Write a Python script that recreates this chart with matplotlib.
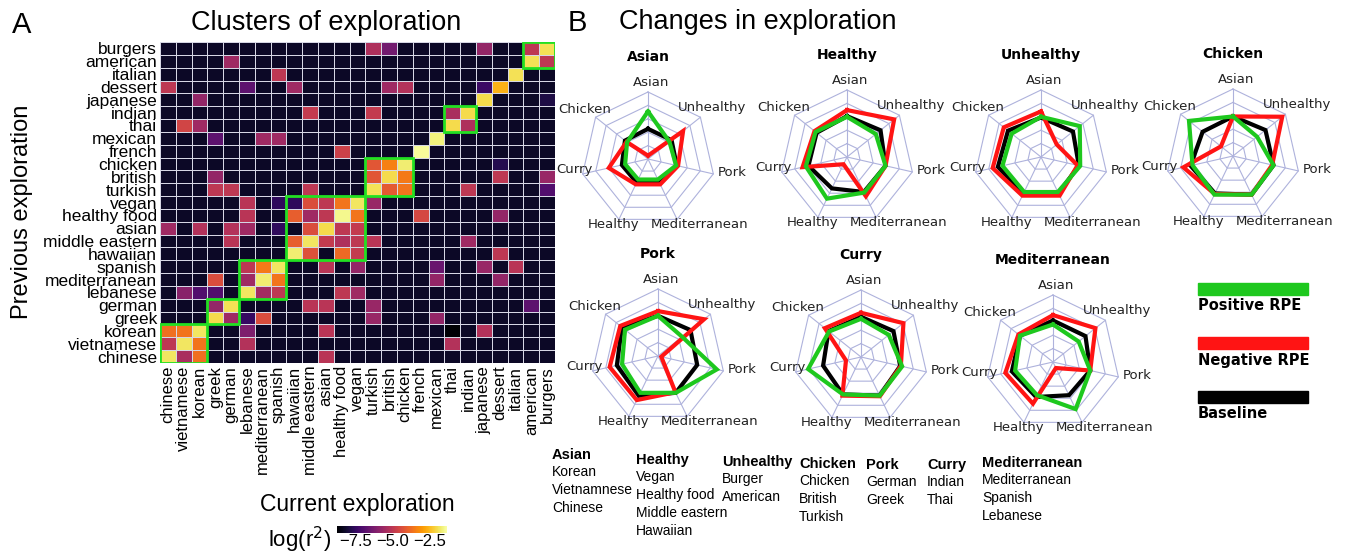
import numpy as np
import matplotlib
matplotlib.use("Agg")
import matplotlib.pyplot as plt
from matplotlib.patches import Rectangle

plt.rcParams['font.family'] = ['Liberation Sans', 'DejaVu Sans']

W, H = 1350, 554

# ---------------- data: panel A ----------------
foods = ["chinese", "vietnamese", "korean", "greek", "german", "lebanese",
         "mediterranean", "spanish", "hawaiian", "middle eastern", "asian",
         "healthy food", "vegan", "turkish", "british", "chicken", "french",
         "mexican", "thai", "indian", "japanese", "dessert", "italian",
         "american", "burgers"]

background_r2 = -8.3
# previous exploration -> {current exploration: log(r^2)}
log_r2 = {
    "burgers": {"turkish": -5.3, "british": -6.4, "japanese": -5.8, "american": -5.0, "burgers": -1.9},
    "american": {"german": -5.6, "american": -1.9, "burgers": -5.0},
    "italian": {"spanish": -5.0, "italian": -1.9},
    "dessert": {"chinese": -5.0, "lebanese": -6.8, "hawaiian": -5.6, "british": -5.6,
                "chicken": -5.2, "japanese": -7.4, "dessert": -2.6},
    "japanese": {"korean": -5.8, "japanese": -2.0, "burgers": -7.9},
    "indian": {"middle eastern": -4.9, "turkish": -4.9, "thai": -5.4, "indian": -2.0},
    "thai": {"vietnamese": -4.6, "korean": -5.6, "thai": -2.0, "indian": -5.3},
    "mexican": {"greek": -6.8, "mediterranean": -5.6, "spanish": -5.6, "mexican": -1.6},
    "french": {"healthy food": -4.7, "french": -1.4},
    "chicken": {"turkish": -4.2, "british": -3.4, "chicken": -1.7, "dessert": -7.8},
    "british": {"greek": -5.8, "turkish": -4.2, "british": -2.0, "chicken": -3.5,
                "dessert": -5.0, "burgers": -5.7},
    "turkish": {"greek": -5.0, "german": -5.0, "middle eastern": -5.0, "turkish": -1.9,
                "british": -4.1, "chicken": -3.6, "indian": -5.0, "burgers": -7.0},
    "vegan": {"lebanese": -5.1, "spanish": -7.6, "hawaiian": -7.6, "middle eastern": -4.4,
              "asian": -5.0, "healthy food": -3.6, "vegan": -1.8, "turkish": -5.7},
    "healthy food": {"lebanese": -5.1, "hawaiian": -4.0, "middle eastern": -5.6, "asian": -5.0,
                     "healthy food": -1.5, "vegan": -3.6, "french": -4.5, "dessert": -5.8},
    "asian": {"chinese": -5.6, "korean": -5.2, "german": -5.2, "lebanese": -5.6, "spanish": -7.6,
              "middle eastern": -4.4, "asian": -2.0, "healthy food": -5.0, "vegan": -4.9},
    "middle eastern": {"german": -5.1, "hawaiian": -4.0, "middle eastern": -1.8, "asian": -4.9,
                       "healthy food": -5.3, "vegan": -5.0, "turkish": -5.1, "indian": -5.6},
    "hawaiian": {"hawaiian": -1.7, "middle eastern": -4.3, "healthy food": -3.8, "vegan": -4.9,
                 "dessert": -5.0},
    "spanish": {"lebanese": -5.0, "mediterranean": -3.5, "spanish": -1.8, "asian": -5.1,
                "vegan": -5.8, "mexican": -6.6, "japanese": -5.7, "italian": -5.1},
    "mediterranean": {"greek": -4.4, "lebanese": -5.6, "mediterranean": -1.7, "spanish": -3.6,
                      "mexican": -5.8, "dessert": -5.8},
    "lebanese": {"vietnamese": -6.0, "korean": -7.0, "greek": -7.0, "lebanese": -1.8,
                 "mediterranean": -5.5, "spanish": -5.0, "healthy food": -5.0, "vegan": -5.6},
    "german": {"greek": -5.8, "german": -1.9, "middle eastern": -5.1, "asian": -5.1,
               "turkish": -5.7, "american": -6.8},
    "greek": {"greek": -2.0, "german": -5.6, "lebanese": -7.5, "mediterranean": -4.4,
              "turkish": -5.7, "mexican": -5.8},
    "korean": {"chinese": -3.7, "vietnamese": -3.6, "korean": -1.8, "lebanese": -6.2,
               "asian": -5.1, "thai": -9.5, "japanese": -5.2},
    "vietnamese": {"chinese": -5.0, "vietnamese": -1.8, "korean": -3.6, "lebanese": -5.2,
                   "thai": -5.2},
    "chinese": {"chinese": -1.8, "vietnamese": -5.4, "korean": -3.7, "asian": -5.1},
}

clusters = [("chinese", "korean"), ("greek", "german"), ("lebanese", "spanish"),
            ("hawaiian", "vegan"), ("turkish", "chicken"), ("thai", "indian"),
            ("american", "burgers")]

# ---------------- data: panel B ----------------
spokes = ["Asian", "Unhealthy", "Pork", "Mediterranean", "Healthy", "Curry", "Chicken"]
panels = ["Asian", "Healthy", "Unhealthy", "Chicken", "Pork", "Curry", "Mediterranean"]

positive_rpe = {
    "Asian":         [0.71, 0.41, 0.43, 0.34, 0.34, 0.35, 0.40],
    "Healthy":       [0.60, 0.55, 0.59, 0.59, 0.69, 0.63, 0.60],
    "Unhealthy":     [0.60, 0.74, 0.60, 0.58, 0.58, 0.59, 0.56],
    "Chicken":       [0.59, 0.46, 0.62, 0.64, 0.64, 0.62, 0.84],
    "Pork":          [0.60, 0.46, 0.90, 0.61, 0.61, 0.55, 0.63],
    "Curry":         [0.57, 0.53, 0.63, 0.64, 0.62, 0.81, 0.61],
    "Mediterranean": [0.56, 0.49, 0.57, 0.78, 0.55, 0.58, 0.63],
}
negative_rpe = {
    "Asian":         [0.05, 0.67, 0.46, 0.42, 0.42, 0.60, 0.41],
    "Healthy":       [0.70, 0.90, 0.59, 0.65, 0.12, 0.68, 0.62],
    "Unhealthy":     [0.68, 0.30, 0.56, 0.64, 0.64, 0.74, 0.71],
    "Chicken":       [0.59, 0.94, 0.60, 0.64, 0.63, 0.76, 0.23],
    "Pork":          [0.67, 0.88, 0.05, 0.60, 0.73, 0.74, 0.72],
    "Curry":         [0.66, 0.81, 0.61, 0.65, 0.64, 0.23, 0.69],
    "Mediterranean": [0.70, 0.81, 0.57, 0.10, 0.69, 0.73, 0.66],
}
baseline = {
    "Asian":         [0.45, 0.45, 0.44, 0.39, 0.39, 0.40, 0.44],
    "Healthy":       [0.61, 0.64, 0.59, 0.58, 0.52, 0.59, 0.58],
    "Unhealthy":     [0.59, 0.61, 0.58, 0.60, 0.61, 0.66, 0.63],
    "Chicken":       [0.59, 0.62, 0.62, 0.64, 0.62, 0.65, 0.58],
    "Pork":          [0.60, 0.62, 0.60, 0.61, 0.66, 0.63, 0.69],
    "Curry":         [0.60, 0.62, 0.60, 0.64, 0.62, 0.58, 0.62],
    "Mediterranean": [0.62, 0.62, 0.57, 0.55, 0.58, 0.63, 0.63],
}

groups = {
    "Asian": ["Korean", "Vietnamnese", "Chinese"],
    "Healthy": ["Vegan", "Healthy food", "Middle eastern", "Hawaiian"],
    "Unhealthy": ["Burger", "American"],
    "Chicken": ["Chicken", "British", "Turkish"],
    "Pork": ["German", "Greek"],
    "Curry": ["Indian", "Thai"],
    "Mediterranean": ["Mediterranean", "Spanish", "Lebanese"],
}

GREEN, RED, BLACK = "#1ec81e", "#ff1414", "#000000"
GRID = "#aeb2dc"


def fig_rect(x, y, w, h):
    # pixel box (top-left origin) -> figure fraction
    return [x / W, 1 - (y + h) / H, w / W, h / H]


def fig_xy(x, y):
    return x / W, 1 - y / H


fig = plt.figure(figsize=(W / 100, H / 100), dpi=100)

# ---------------- panel A: heatmap ----------------
n = len(foods)
mat = np.full((n, n), background_r2)
for prev, row in log_r2.items():
    for cur, v in row.items():
        mat[foods.index(prev), foods.index(cur)] = v

ax = fig.add_axes(fig_rect(160, 42, 395, 321))
cmap = plt.get_cmap("inferno").copy()
mesh = ax.pcolormesh(np.arange(n + 1), np.arange(n + 1), mat, cmap=cmap,
                     vmin=-8.8, vmax=-1.3, edgecolors="#d6d6e4", linewidth=0.6)
for a, b in clusters:
    i0, i1 = foods.index(a), foods.index(b)
    ax.add_patch(Rectangle((i0, i0), i1 - i0 + 1, i1 - i0 + 1, fill=False,
                           edgecolor="#22e022", linewidth=2.0, zorder=3))
ax.set_xlim(0, n)
ax.set_ylim(0, n)
ax.set_xticks(np.arange(n) + 0.5)
ax.set_xticklabels(foods, rotation=90, fontsize=12)
ax.set_yticks(np.arange(n) + 0.5)
ax.set_yticklabels(foods, fontsize=12.5)
ax.tick_params(length=0, pad=2)
for s in ax.spines.values():
    s.set_visible(False)

fig.text(*fig_xy(326, 23), "Clusters of exploration", fontsize=19.5, ha="center", va="center")
fig.text(*fig_xy(22, 212), "Previous exploration", fontsize=17, rotation=90,
         ha="center", va="center")
fig.text(*fig_xy(357, 504), "Current exploration", fontsize=16.5, ha="center", va="center")

cax = fig.add_axes(fig_rect(337, 526, 110, 7))
cb = fig.colorbar(mesh, cax=cax, orientation="horizontal", ticks=[-7.5, -5.0, -2.5])
cb.outline.set_visible(False)
cb.ax.tick_params(labelsize=12, length=0, pad=1)
fig.text(*fig_xy(300, 540), "log(r$^2$)", fontsize=16, ha="center", va="center")

fig.text(*fig_xy(22, 25), "A", fontsize=21, ha="center", va="center")
fig.text(*fig_xy(577, 23), "B", fontsize=21, ha="center", va="center")
fig.text(*fig_xy(758, 22), "Changes in exploration", fontsize=19.5, ha="center", va="center")

# ---------------- panel B: radar charts ----------------
centers = {
    "Asian": (648, 159), "Healthy": (847, 157), "Unhealthy": (1041, 157),
    "Chicken": (1233, 156), "Pork": (658, 356), "Curry": (861, 357),
    "Mediterranean": (1053, 362),
}
R = 67
label_offsets = {
    "Asian": (0.05, 1.14), "Unhealthy": (0.95, 0.77), "Pork": (1.25, -0.20),
    "Mediterranean": (0.77, -0.98), "Healthy": (-0.52, -0.98),
    "Curry": (-1.10, -0.15), "Chicken": (-0.95, 0.74),
}

theta = np.linspace(0, 2 * np.pi, len(spokes), endpoint=False)
theta_c = np.append(theta, theta[0])

for name in panels:
    cx, cy = centers[name]
    rax = fig.add_axes(fig_rect(cx - R, cy - R, 2 * R, 2 * R), projection="polar")
    rax.set_theta_offset(np.pi / 2)
    rax.set_theta_direction(-1)
    rax.set_ylim(0, 1)
    rax.grid(False)
    rax.set_xticks([])
    rax.set_yticks([])
    rax.spines["polar"].set_visible(False)
    rax.patch.set_visible(False)

    for ring in [0.2, 0.4, 0.6, 0.8, 1.0]:
        rax.plot(theta_c, [ring] * len(theta_c), color=GRID, lw=0.8, clip_on=False, zorder=1)
    for t in theta:
        rax.plot([t, t], [0, 1], color=GRID, lw=0.8, clip_on=False, zorder=1)

    for series, col in [(baseline, BLACK), (negative_rpe, RED), (positive_rpe, GREEN)]:
        vals = series[name]
        rax.plot(theta_c, vals + vals[:1], color=col, lw=3.0, clip_on=False,
                 solid_joinstyle="miter", zorder=3)

    for sp in spokes:
        dx, dy = label_offsets[sp]
        rax.text(0.5 + 0.5 * dx, 0.5 + 0.5 * dy, sp, transform=rax.transAxes,
                 ha="center", va="center", fontsize=9.5, family="DejaVu Sans",
                 color="#222222")
    rax.text(0.5, 0.5 + 0.5 * 1.52, name, transform=rax.transAxes, ha="center",
             va="center", fontsize=10, fontweight="bold", family="DejaVu Sans")

# legend
for (label, col, top) in [("Positive RPE", GREEN, 283), ("Negative RPE", RED, 337),
                          ("Baseline", BLACK, 391)]:
    fig.add_artist(Rectangle(fig_rect(1198, top, 110, 12)[:2], 110 / W, 12 / H,
                             transform=fig.transFigure, color=col))
    fig.text(*fig_xy(1198, top + 23), label, fontsize=10.5, fontweight="bold",
             family="DejaVu Sans", ha="left", va="center")

# group descriptions
group_pos = {
    "Asian": (552, 455), "Healthy": (636, 460), "Unhealthy": (722, 462),
    "Chicken": (799, 464), "Pork": (866, 465), "Curry": (927, 465),
    "Mediterranean": (982, 463),
}
for g, items in groups.items():
    gx, gy = group_pos[g]
    fig.text(*fig_xy(gx, gy), g, fontsize=10.5, fontweight="bold",
             ha="left", va="center")
    for k, it in enumerate(items):
        fig.text(*fig_xy(gx, gy + 17 + 18 * k), it, fontsize=10,
                 ha="left", va="center")

fig.savefig("out.png", dpi=100)
